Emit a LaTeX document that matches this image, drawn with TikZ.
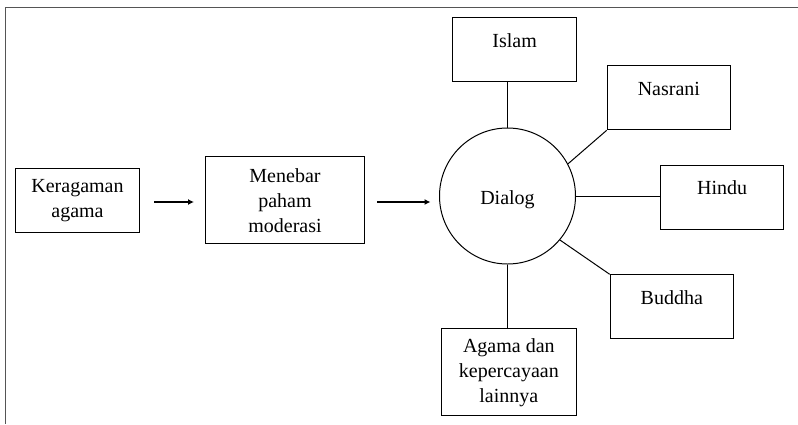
\documentclass[tikz,border=0pt]{standalone}
\usepackage{fontspec}
\setmainfont{Liberation Serif}
\usetikzlibrary{arrows.meta}
\begin{document}
\begin{tikzpicture}[x=1pt,y=-1pt,
  box/.style={draw,line width=1pt,rectangle,inner sep=0pt,anchor=north west},
  lbl/.style={inner sep=0pt,align=center,font=\fontsize{20}{25}\selectfont},
  toptext/.style={inner sep=0pt,anchor=base,font=\fontsize{20}{25}\selectfont},
  link/.style={line width=1pt},
  flow/.style={line width=1.4pt,-{Latex[length=6pt,width=6pt]}}]
\useasboundingbox (0,0) rectangle (798,424);
\definecolor{framecol}{RGB}{85,85,85}
% frame
\coordinate (fa) at (798,7.3);
\coordinate (fb) at (5.8,7.3);
\coordinate (fc) at (5.8,424);
\draw[framecol,line width=1.2pt] (fa) -- (fb) -- (fc);
% left boxes
\node[box,minimum width=123.4pt,minimum height=64pt] (ker) at (15.3,167.7) {};
\node[lbl] (kert) at ([yshift=-0.5pt]ker.center) {Keragaman\\agama};
\node[box,minimum width=159pt,minimum height=87pt] (men) at (205,156.3) {};
\node[lbl] (ment) at (men.center) {Menebar\\paham\\moderasi};
% circle
\node[draw,circle,line width=1pt,minimum size=136pt,inner sep=0pt] (dia) at (507.5,196) {};
\node[toptext] (diat) at (507.5,204) {Dialog};
% right boxes
\node[box,minimum width=123.7pt,minimum height=64pt] (isl) at (452.3,17.3) {};
\node[toptext] (islt) at ([yshift=-30pt]isl.north) {Islam};
\node[box,minimum width=123.3pt,minimum height=64pt] (nas) at (606.7,65.3) {};
\node[toptext] (nast) at ([yshift=-30pt]nas.north) {Nasrani};
\node[box,minimum width=123.3pt,minimum height=64.3pt] (hin) at (660,164.7) {};
\node[toptext] (hint) at ([yshift=-30pt]hin.north) {Hindu};
\node[box,minimum width=123.3pt,minimum height=63.7pt] (bud) at (609.7,274.3) {};
\node[toptext] (budt) at ([yshift=-30pt]bud.north) {Buddha};
\node[box,minimum width=135.3pt,minimum height=87pt] (lain) at (440.7,328.3) {};
\node[lbl] (laint) at (lain.center) {Agama dan\\kepercayaan\\lainnya};
% arrows
\coordinate (a1s) at (154,202);
\coordinate (a1e) at (194,202);
\coordinate (a2s) at (377.3,202);
\coordinate (a2e) at (430.5,202);
\draw[flow] (a1s) -- (a1e);
\draw[flow] (a2s) -- (a2e);
% links
\draw[link] (dia.north) -- (dia.north |- isl.south);
\draw[link] (dia.south) -- (dia.south |- lain.north);
\draw[link] (dia.east) -- (dia.east -| hin.west);
\draw[link] (dia.28) -- (nas.south west);
\draw[link] (dia.-40) -- (bud.north west);
\end{tikzpicture}
\end{document}
